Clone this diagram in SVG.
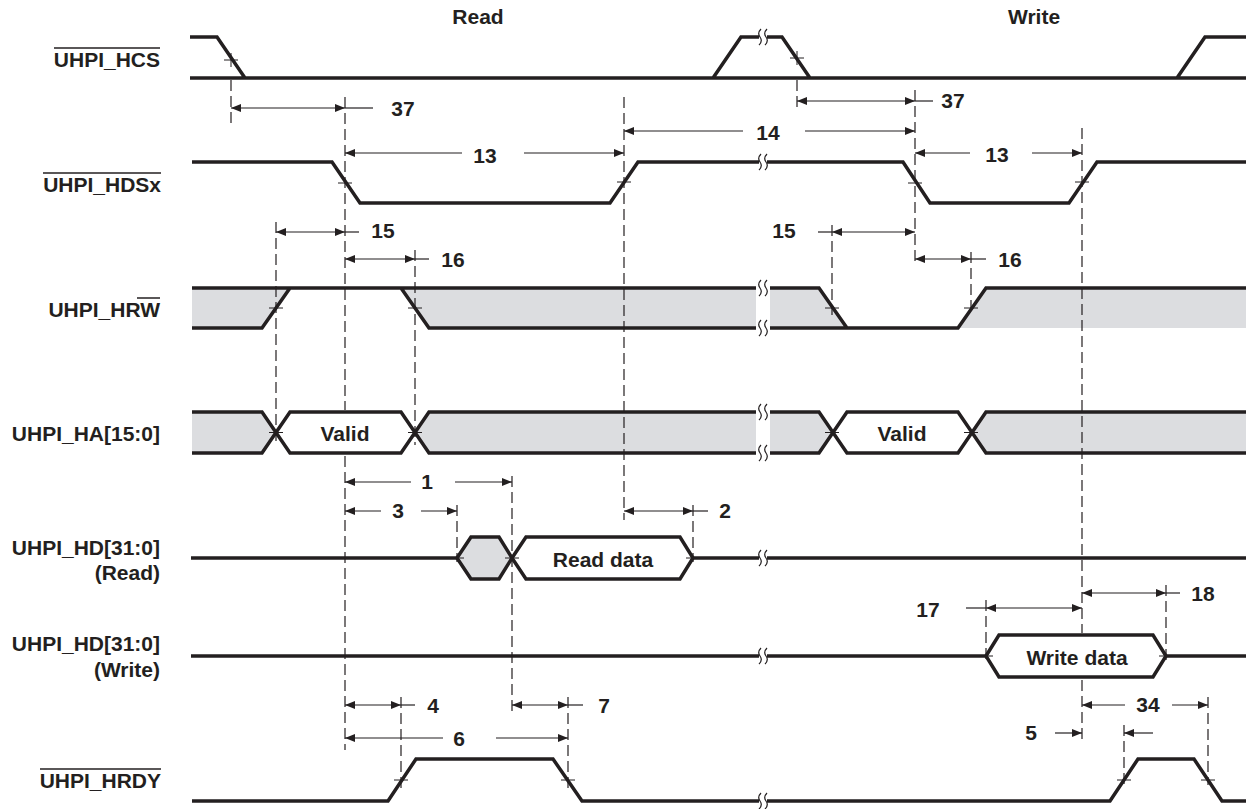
<svg xmlns="http://www.w3.org/2000/svg" width="1246" height="809" viewBox="0 0 1246 809">
<style>
.sig{fill:none;stroke:#231f20;stroke-width:3.5;stroke-linejoin:miter;stroke-linecap:butt}
.gray{fill:#dcdde0;stroke:none}
.hex{fill:#fff;stroke:#231f20;stroke-width:3.5}
.hexg{fill:#dcdde0;stroke:#231f20;stroke-width:3.5}
.x{stroke:#231f20;stroke-width:1;fill:none}
.dash{stroke:#231f20;stroke-width:1.2;stroke-dasharray:11 5;fill:none}
.dim{stroke:#231f20;stroke-width:1.2;fill:none}
.lbl{font-family:"Liberation Sans",Arial,sans-serif;font-weight:bold;font-size:21px;fill:#231f20}
.num{font-family:"Liberation Sans",Arial,sans-serif;font-weight:bold;font-size:21px;fill:#231f20;text-anchor:middle}
.end{text-anchor:end}
.ol{stroke:#231f20;stroke-width:1.5}
.brk{fill:none;stroke:#231f20;stroke-width:1.2}
</style>
<defs>
<marker id="ah" viewBox="0 0 10 8" refX="10" refY="4" markerWidth="10" markerHeight="8" markerUnits="userSpaceOnUse" orient="auto-start-reverse"><path d="M0,0 L10,4 L0,8 z" fill="#231f20"/></marker>
<g id="bk"><rect x="-4" y="-3" width="8" height="6" fill="#fff"/><path class="brk" d="M-2,-8 Q-6,-4 -3,0 Q0,4 -4,8 M4,-8 Q0,-4 3,0 Q6,4 2,8"/></g>
</defs>
<rect width="1246" height="809" fill="#fff"/>

<g id="titles">
<text class="num" x="478" y="24">Read</text>
<text class="num" x="1034" y="24">Write</text>
</g>

<g id="hcs">
<text class="lbl end" x="160" y="67">UHPI_HCS</text>
<line class="ol" x1="54" y1="48" x2="160" y2="48"/>
<path class="sig" d="M190,37 H217 L245,78 M190,78 H1246 M713,78 L741,37 H782 L810,78 M1177,78 L1205,37 H1246"/>
<path class="x" d="M224,60 H238 M231,53 V67 M790,58 H804 M797,51 V65"/>
<use href="#bk" x="763" y="37"/>
</g>

<g id="hdsx">
<text class="lbl end" x="161" y="192">UHPI_HDSx</text>
<line class="ol" x1="43" y1="173" x2="161" y2="173"/>
<path class="sig" d="M192,162 H332 L360,203 H610 L638,162 H903 L930,203 H1069 L1097,162 H1246"/>
<path class="x" d="M338,183 H352 M617,182 H631 M908,183 H922 M1075,182 H1089"/>
<use href="#bk" x="763" y="162"/>
</g>

<g id="hrw">
<text class="lbl end" x="160" y="317">UHPI_HRW</text>
<line class="ol" x1="137" y1="298" x2="160" y2="298"/>
<path class="gray" d="M192,288 H290 L262,328 H192 Z M401,288 H756 V328 H429 Z M770,288 H819 L847,328 H770 Z M986,288 H1246 V328 H958 Z"/>
<path class="sig" d="M192,288 H756 M770,288 H819 L847,328 M192,328 H262 L290,288 M401,288 L429,328 H756 M770,328 H958 L986,288 H1246"/>
<path class="x" d="M269,308 H283 M408,308 H422 M825,308 H839 M964,308 H978"/>
<use href="#bk" x="763" y="288"/>
<use href="#bk" x="763" y="328"/>
</g>

<g id="ha">
<text class="lbl end" x="160" y="441">UHPI_HA[15:0]</text>
<path class="gray" d="M192,412 H262 L276,432.5 L262,453 H192 Z M415,432.5 L429,412 H756 V453 H429 Z M770,412 H819 L832,432.5 L819,453 H770 Z M971,432.5 L986,412 H1246 V453 H986 Z"/>
<path class="sig" d="M192,412 H262 L290,453 H401 L429,412 H756 M192,453 H262 L290,412 H401 L429,453 H756 M770,412 H819 L847,453 H958 L986,412 H1246 M770,453 H819 L847,412 H958 L986,453 H1246"/>
<path class="x" d="M269,432.5 H283 M408,432.5 H422 M825,432.5 H839 M964,432.5 H978"/>
<text class="num" x="345" y="441">Valid</text>
<text class="num" x="902" y="441">Valid</text>
<use href="#bk" x="763" y="412"/>
<use href="#bk" x="763" y="453"/>
</g>

<g id="hdread">
<text class="lbl end" x="160" y="555">UHPI_HD[31:0]</text>
<text class="lbl end" x="160" y="580">(Read)</text>
<path class="sig" d="M191,558 H457 M693,558 H1246"/>
<path class="hexg" d="M457,558 L471,537 H499 L512,558 L499,579 H471 Z"/>
<path class="hex" d="M512,558 L526,537 H680 L693,558 L680,579 H526 Z"/>
<path class="x" d="M450,558 H464 M505,558 H519 M686,558 H700"/>
<text class="num" x="603" y="567">Read data</text>
<use href="#bk" x="763" y="558"/>
</g>

<g id="hdwrite">
<text class="lbl end" x="160" y="651">UHPI_HD[31:0]</text>
<text class="lbl end" x="160" y="677">(Write)</text>
<path class="sig" d="M191,656 H986 M1166,656 H1246"/>
<path class="hex" d="M986,656 L999,635 H1153 L1166,656 L1153,677 H999 Z"/>
<path class="x" d="M979,656 H993 M1159,656 H1173"/>
<text class="num" x="1077" y="665">Write data</text>
<use href="#bk" x="763" y="656"/>
</g>

<g id="hrdy">
<text class="lbl end" x="161" y="788">UHPI_HRDY</text>
<line class="ol" x1="40" y1="769" x2="161" y2="769"/>
<path class="sig" d="M192,801 H388 L416,759 H553 L582,801 H1110 L1138,759 H1194 L1222,801 H1246"/>
<path class="x" d="M394,780 H408 M561,780 H575 M1117,780 H1131 M1201,780 H1215"/>
<use href="#bk" x="763" y="801"/>
</g>

<g id="connectors">
<path class="dash" d="M231,80 V124 M345,97 V410 M345,456 V750 M624,97 V520 M797,80 V108 M915,90 V265 M1082,128 V633 M1082,680 V740 M276,222 V445 M415,250 V445 M832,225 V315 M971,252 V315 M457,505 V562 M512,476 V712 M693,505 V562 M986,600 V660 M1166,585 V660 M401,697 V790 M568,697 V790 M1124,725 V785 M1208,697 V785"/>
<line class="dim" x1="231" y1="108" x2="345" y2="108" marker-start="url(#ah)" marker-end="url(#ah)"/>
<line class="dim" x1="345" y1="108" x2="373" y2="108"/>
<line class="dim" x1="797" y1="101" x2="915" y2="101" marker-start="url(#ah)" marker-end="url(#ah)"/>
<line class="dim" x1="915" y1="101" x2="933" y2="101"/>
<line class="dim" x1="743" y1="131" x2="624" y2="131" marker-end="url(#ah)"/>
<line class="dim" x1="805" y1="131" x2="915" y2="131" marker-end="url(#ah)"/>
<line class="dim" x1="462" y1="153" x2="345" y2="153" marker-end="url(#ah)"/>
<line class="dim" x1="524" y1="153" x2="624" y2="153" marker-end="url(#ah)"/>
<line class="dim" x1="970" y1="153" x2="915" y2="153" marker-end="url(#ah)"/>
<line class="dim" x1="1032" y1="153" x2="1082" y2="153" marker-end="url(#ah)"/>
<line class="dim" x1="276" y1="232" x2="345" y2="232" marker-start="url(#ah)" marker-end="url(#ah)"/>
<line class="dim" x1="345" y1="232" x2="359" y2="232"/>
<line class="dim" x1="345" y1="259" x2="415" y2="259" marker-start="url(#ah)" marker-end="url(#ah)"/>
<line class="dim" x1="415" y1="259" x2="429" y2="259"/>
<line class="dim" x1="818" y1="232" x2="832" y2="232"/>
<line class="dim" x1="832" y1="232" x2="915" y2="232" marker-start="url(#ah)" marker-end="url(#ah)"/>
<line class="dim" x1="915" y1="259" x2="971" y2="259" marker-start="url(#ah)" marker-end="url(#ah)"/>
<line class="dim" x1="971" y1="259" x2="986" y2="259"/>
<line class="dim" x1="411" y1="482" x2="345" y2="482" marker-end="url(#ah)"/>
<line class="dim" x1="455" y1="482" x2="512" y2="482" marker-end="url(#ah)"/>
<line class="dim" x1="381" y1="511" x2="345" y2="511" marker-end="url(#ah)"/>
<line class="dim" x1="421" y1="511" x2="457" y2="511" marker-end="url(#ah)"/>
<line class="dim" x1="624" y1="511" x2="693" y2="511" marker-start="url(#ah)" marker-end="url(#ah)"/>
<line class="dim" x1="693" y1="511" x2="708" y2="511"/>
<line class="dim" x1="966" y1="608" x2="986" y2="608"/>
<line class="dim" x1="986" y1="608" x2="1082" y2="608" marker-start="url(#ah)" marker-end="url(#ah)"/>
<line class="dim" x1="1082" y1="593" x2="1166" y2="593" marker-start="url(#ah)" marker-end="url(#ah)"/>
<line class="dim" x1="1166" y1="593" x2="1180" y2="593"/>
<line class="dim" x1="1125" y1="705" x2="1082" y2="705" marker-end="url(#ah)"/>
<line class="dim" x1="1172" y1="705" x2="1208" y2="705" marker-end="url(#ah)"/>
<line class="dim" x1="1055" y1="733" x2="1082" y2="733" marker-end="url(#ah)"/>
<line class="dim" x1="1153" y1="733" x2="1124" y2="733" marker-end="url(#ah)"/>
<line class="dim" x1="345" y1="705" x2="401" y2="705" marker-start="url(#ah)" marker-end="url(#ah)"/>
<line class="dim" x1="401" y1="705" x2="415" y2="705"/>
<line class="dim" x1="443" y1="738" x2="345" y2="738" marker-end="url(#ah)"/>
<line class="dim" x1="496" y1="738" x2="568" y2="738" marker-end="url(#ah)"/>
<line class="dim" x1="512" y1="705" x2="568" y2="705" marker-start="url(#ah)" marker-end="url(#ah)"/>
<line class="dim" x1="568" y1="705" x2="583" y2="705"/>
</g>

<g id="dimlabels">
<text class="num" x="403" y="116">37</text>
<text class="num" x="953" y="108">37</text>
<text class="num" x="768" y="140">14</text>
<text class="num" x="485" y="163">13</text>
<text class="num" x="997" y="162">13</text>
<text class="num" x="383" y="238">15</text>
<text class="num" x="453" y="267">16</text>
<text class="num" x="784" y="238">15</text>
<text class="num" x="1010" y="267">16</text>
<text class="num" x="427" y="489">1</text>
<text class="num" x="398" y="518">3</text>
<text class="num" x="725" y="518">2</text>
<text class="num" x="928" y="617">17</text>
<text class="num" x="1203" y="601">18</text>
<text class="num" x="1148" y="712">34</text>
<text class="num" x="1031" y="740">5</text>
<text class="num" x="433" y="713">4</text>
<text class="num" x="459" y="746">6</text>
<text class="num" x="604" y="713">7</text>
</g>
</svg>
